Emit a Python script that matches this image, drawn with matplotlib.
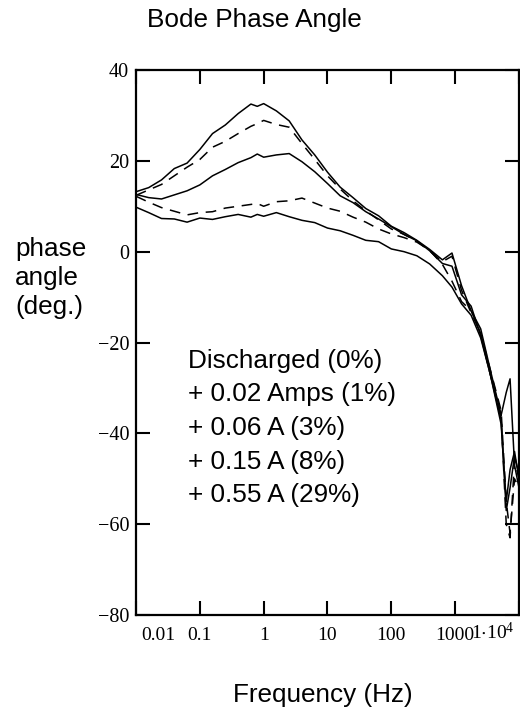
import matplotlib
matplotlib.use('Agg')
import matplotlib.pyplot as plt
import matplotlib.transforms as mtransforms

plt.rcParams['mathtext.fontset'] = 'custom'
plt.rcParams['mathtext.rm'] = 'Liberation Serif'

# frequency grid (Hz), shared by all five sweeps
freq = [0.01, 0.0158, 0.0251, 0.0398, 0.0631, 0.1, 0.158, 0.251, 0.398,
        0.631, 0.794, 1.0, 1.58, 2.51, 3.98, 6.31, 10, 15.8, 25.1, 39.8,
        63.1, 100, 158, 251, 398, 631, 891, 1259, 1778, 2512, 3548,
        5248, 6310, 7244, 8511, 10000]

# phase angle (deg.), top curve first
phase_a = [13.2, 14.1, 15.8, 18.3, 19.5, 22.5, 26.0, 27.9, 30.4, 32.5, 32.0,
           32.6, 31.0, 28.8, 24.6, 21.3, 17.5, 14.2, 11.9, 9.5, 7.9, 5.6,
           4.2, 2.5, 0.5, -1.8, -0.3, -7.5, -13.0, -17.0, -26.0,
           -36.0, -31.0, -28.0, -47.0, -52.0]
phase_b = [12.4, 13.6, 14.8, 16.7, 18.6, 20.3, 23.0, 24.3, 26.0, 27.6, 28.2,
           28.9, 28.0, 27.4, 23.8, 20.3, 16.7, 13.8, 11.2, 9.0, 7.0, 5.0,
           3.8, 2.3, 0.2, -2.2, -1.0, -8.5, -13.5, -18.0, -27.0,
           -36.0, -60.0, -63.0, -46.0, -50.0]
phase_c = [12.6, 11.9, 11.6, 12.5, 13.4, 14.7, 16.7, 18.1, 19.6, 20.7, 21.5,
           20.8, 21.3, 21.6, 19.8, 17.6, 15.0, 12.3, 10.8, 8.8, 7.2, 5.5,
           3.8, 2.4, 0.2, -2.6, -3.2, -9.5, -12.0, -18.5, -27.0,
           -37.0, -57.0, -52.0, -45.0, -49.0]
phase_d = [12.2, 10.9, 9.7, 8.9, 8.1, 8.6, 8.8, 9.6, 10.0, 10.4, 10.6,
           10.0, 11.0, 11.2, 11.8, 10.7, 9.6, 8.9, 7.6, 6.5, 5.0, 3.9,
           3.1, 2.1, 0.3, -2.8, -6.5, -11.0, -13.0, -18.0, -26.0,
           -35.0, -55.0, -62.0, -50.0, -52.0]
phase_e = [9.8, 8.6, 7.3, 7.2, 6.5, 7.4, 7.1, 7.7, 8.2, 7.6, 8.2,
           7.8, 8.6, 7.7, 6.9, 6.4, 5.2, 4.6, 3.6, 2.5, 2.2, 0.6,
           0.0, -0.9, -2.7, -5.3, -7.8, -11.5, -14.0, -19.0, -27.0,
           -38.0, -55.0, -48.0, -44.0, -50.0]

legend_lines = ['Discharged (0%)', '+ 0.02 Amps (1%)', '+ 0.06 A (3%)',
                '+ 0.15 A (8%)', '+ 0.55 A (29%)']

x_ticks = [0.01, 0.1, 1, 10, 100, 1000, 10000]
x_ticklabels = ['0.01', '0.1', '1', '10', '100', '1000',
                r'$\mathregular{1{\cdot}10^{4}}$']
y_ticks = [-80, -60, -40, -20, 0, 20, 40]
y_ticklabels = ['\u221280', '\u221260', '\u221240', '\u221220', '0', '20', '40']

sans = 'Liberation Sans'
serif = 'Liberation Serif'


def main():
    W, H = 520, 714
    fig = plt.figure(figsize=(W / 100, H / 100), dpi=100)
    ax = fig.add_axes([136 / W, 1 - 615 / H, 383 / W, 545 / H])

    dash = (0, (7, 5))
    ax.plot(freq, phase_a, color='black', lw=1.1)
    ax.plot(freq, phase_b, color='black', lw=1.1, linestyle=dash)
    ax.plot(freq, phase_c, color='black', lw=1.1)
    ax.plot(freq, phase_d, color='black', lw=1.1, linestyle=dash)
    ax.plot(freq, phase_e, color='black', lw=1.1)

    ax.set_xscale('log')
    ax.set_xlim(0.01, 10000)
    ax.set_ylim(-80, 40)
    ax.minorticks_off()
    ax.set_xticks(x_ticks)
    ax.set_xticklabels([])
    ax.set_yticks(y_ticks)
    ax.set_yticklabels(y_ticklabels, fontfamily=serif, fontsize=14.5)
    ax.tick_params(axis='both', which='major', direction='in', length=10,
                   width=1.5, top=True, right=True, color='black')
    ax.tick_params(axis='y', pad=5)
    for s in ax.spines.values():
        s.set_linewidth(1.6)

    # x tick labels drawn by hand, the end ones nudged inwards
    trans = ax.get_xaxis_transform()
    for i, (xv, lab) in enumerate(zip(x_ticks, x_ticklabels)):
        ha = 'center'
        t = trans
        if i == 0:
            t = mtransforms.offset_copy(trans, fig=fig, x=22, y=0, units='dots')
        elif i == len(x_ticks) - 1:
            ha = 'right'
            t = mtransforms.offset_copy(trans, fig=fig, x=-4, y=0, units='dots')
        ax.text(xv, -0.045, lab, transform=t, ha=ha, va='baseline',
                fontfamily=serif, fontsize=14)

    fig.text(147 / W, 1 - 27 / H, 'Bode Phase Angle', ha='left',
             va='baseline', fontsize=18.8, family=sans)
    fig.text(15 / W, 1 - 278 / H, 'phase\nangle\n(deg.)', ha='left',
             va='center', fontsize=18.8, family=sans, linespacing=1.25)
    fig.text(323 / W, 1 - 702 / H, 'Frequency (Hz)', ha='center',
             va='baseline', fontsize=18.8, family=sans)

    for i, line in enumerate(legend_lines):
        fig.text(188 / W, 1 - (368 + 33.5 * i) / H, line, ha='left',
                 va='baseline', fontsize=18.8, family=sans)

    fig.savefig('out.png', dpi=100)


if __name__ == '__main__':
    main()
